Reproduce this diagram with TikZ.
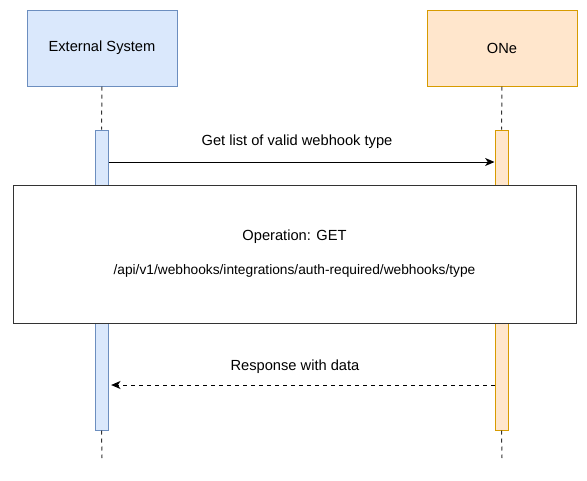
\documentclass[tikz,border=0pt]{standalone}
\usepackage{fontspec}
\setmainfont{Liberation Sans}
\usetikzlibrary{arrows.meta}
\definecolor{bfill}{HTML}{DAE8FC}
\definecolor{bdraw}{HTML}{6C8EBF}
\definecolor{ofill}{HTML}{FFE6CC}
\definecolor{odraw}{HTML}{D79B00}
\definecolor{ln}{HTML}{333333}
\tikzset{
  actor/.style={draw, line width=0.75pt, minimum width=112.5pt, minimum height=57pt, inner sep=0pt, font=\fontsize{11}{13}\selectfont},
  actbar/.style={draw, line width=0.75pt, minimum width=9.75pt, minimum height=225pt, inner sep=0pt},
  life/.style={line width=0.75pt, dash pattern=on 3pt off 3pt, ln},
  msg/.style={line width=0.75pt, -{Stealth[length=7pt,width=6pt,inset=2pt]}, black},
  lbl/.style={font=\fontsize{11}{13}\selectfont, inner sep=0pt}
}
\begin{document}
\begin{tikzpicture}[x=0.75pt,y=-0.75pt]
\useasboundingbox (0,0) rectangle (587,480);
\node[actor, fill=bfill, draw=bdraw] (ext) at (102,48) {External System};
\node[actor, fill=ofill, draw=odraw] (one) at (502,48) {ONe};
\node[actbar, fill=bfill, draw=bdraw] (extbar) at (101.5,280) {};
\node[actbar, fill=ofill, draw=odraw] (onebar) at (501.5,280) {};
\coordinate (extend) at (102,458);
\coordinate (oneend) at (502,458);
\draw[life] (ext.south) -- (extbar.north);
\draw[life] (one.south) -- (onebar.north);
\draw[life] (extbar.south) -- (extend);
\draw[life] (onebar.south) -- (oneend);
\coordinate (m1s) at (108,162);
\coordinate (m1e) at (495,162);
\draw[msg] (extbar.east |- m1s) -- (onebar.west |- m1e);
\node[lbl] (l1) at (297,142) {Get list of valid webhook type};
\node[draw=ln, fill=white, line width=0.75pt, minimum width=422.25pt, minimum height=103.5pt, inner sep=0pt] (op) at (294.5,254) {};
\node[lbl] (opt) at (294.5,237) {Operation: GET};
\node[lbl, font=\fontsize{10.3}{12}\selectfont] (path) at (294.5,271) {/api/v1/webhooks/integrations/auth-required/webhooks/type};
\coordinate (m2) at (300,385);
\draw[msg, dashed, dash pattern=on 3pt off 3pt] (onebar.west |- m2) -- ([xshift=2pt]extbar.east |- m2);
\node[lbl] (l2) at (295,367) {Response with data};
\end{tikzpicture}
\end{document}
